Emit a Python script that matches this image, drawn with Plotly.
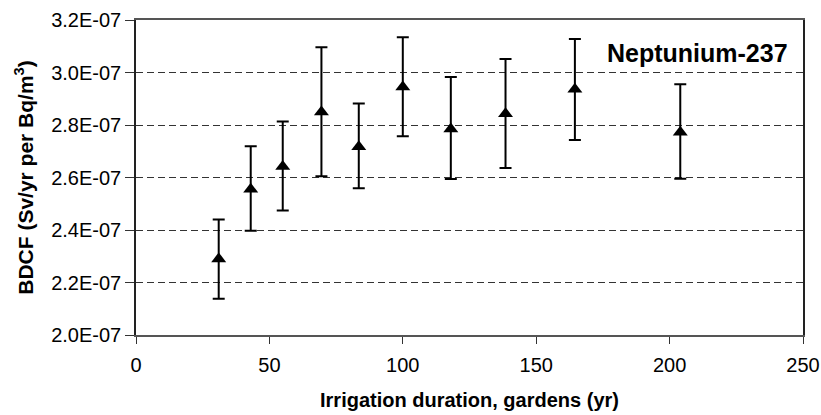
import plotly.graph_objects as go

duration = [31, 43, 55, 69.5, 83.5, 100, 118, 138.5, 164.5, 204]
bdcf = [2.29e-7, 2.555e-7, 2.642e-7, 2.85e-7, 2.717e-7, 2.945e-7, 2.785e-7, 2.843e-7, 2.936e-7, 2.772e-7]
upper = [2.44e-7, 2.719e-7, 2.813e-7, 3.096e-7, 2.882e-7, 3.134e-7, 2.983e-7, 3.051e-7, 3.128e-7, 2.955e-7]
lower = [2.138e-7, 2.397e-7, 2.474e-7, 2.605e-7, 2.559e-7, 2.757e-7, 2.594e-7, 2.636e-7, 2.743e-7, 2.595e-7]

y_ticks = [2.0e-7, 2.2e-7, 2.4e-7, 2.6e-7, 2.8e-7, 3.0e-7, 3.2e-7]
y_tick_text = ["2.0E-07", "2.2E-07", "2.4E-07", "2.6E-07", "2.8E-07", "3.0E-07", "3.2E-07"]
x_ticks = [0, 50, 100, 150, 200, 250]

err_plus = [u - v for u, v in zip(upper, bdcf)]
err_minus = [v - l for v, l in zip(bdcf, lower)]

fig = go.Figure()
fig.add_trace(go.Scatter(
    x=duration, y=bdcf, mode="markers",
    marker=dict(symbol="triangle-up", size=13, color="black"),
    error_y=dict(type="data", symmetric=False, array=err_plus, arrayminus=err_minus,
                 color="black", thickness=2, width=6),
    showlegend=False,
))

font = "Liberation Sans, Arial, sans-serif"
fig.update_layout(
    width=821, height=415,
    margin=dict(l=136, r=18, t=20, b=80),
    paper_bgcolor="white", plot_bgcolor="white",
    font=dict(family=font, size=20, color="black"),
    xaxis=dict(range=[0, 250], tickvals=x_ticks, ticks="outside", ticklen=7,
               tickcolor="#333333", ticklabelstandoff=4, automargin=False,
               showgrid=False, zeroline=False, showline=True, linecolor="#555555",
               linewidth=1.5, mirror=True,
               title=dict(text="<b>Irrigation duration, gardens (yr)</b>", standoff=18,
                          font=dict(size=20))),
    yaxis=dict(range=[2.0e-7, 3.2e-7], tickvals=y_ticks, ticktext=y_tick_text,
               ticks="outside", ticklen=9, tickcolor="#333333", ticklabelstandoff=0,
               automargin=False,
               showgrid=True, gridcolor="#333333",
               griddash="7px,4px", gridwidth=1, zeroline=False, showline=True,
               linecolor="#222222", linewidth=1.5, mirror=True,
               title=dict(text="<b>BDCF (Sv/yr per Bq/m<sup>3</sup>)</b>", standoff=12,
                          font=dict(size=21))),
    annotations=[dict(text="<b>Neptunium-237</b>", xref="paper", yref="paper",
                      x=0.98, y=0.895, xanchor="right", yanchor="middle",
                      showarrow=False, font=dict(size=25, family=font))],
)

fig.write_html(
    "out.html",
    config={"displayModeBar": False},
    post_script="document.body.style.margin='0';document.body.style.overflow='hidden';",
)
